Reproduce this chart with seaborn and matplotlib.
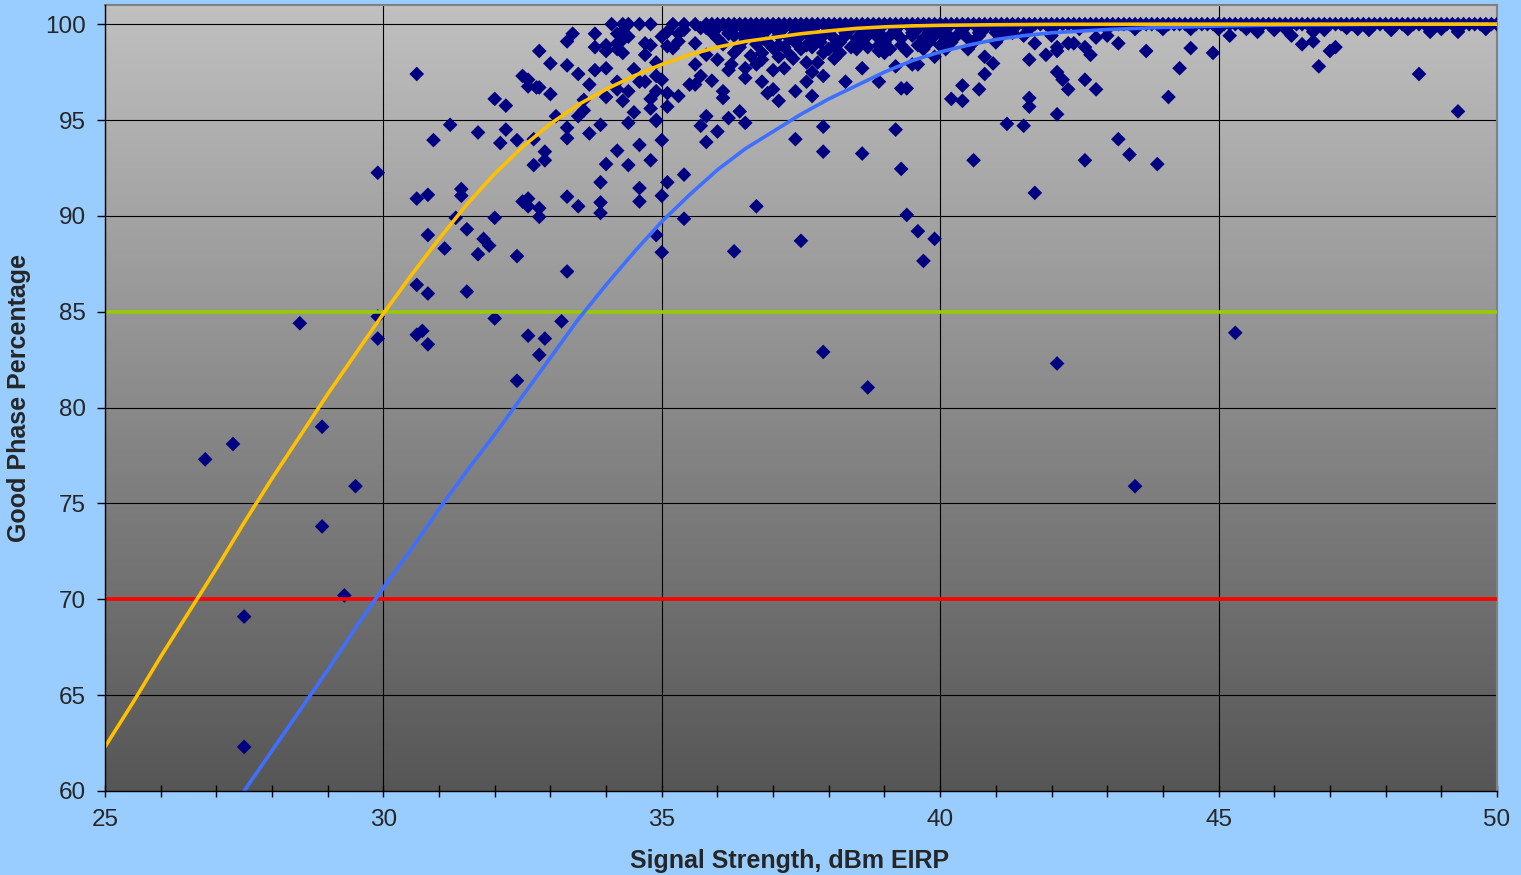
import numpy as np
import pandas as pd
import matplotlib
matplotlib.use("Agg")
import matplotlib.pyplot as plt
import seaborn as sns

# ---- fitted curves (signal strength in dBm EIRP -> good phase %) ----
fit_a_x = [25.0, 25.5, 26.0, 26.5, 27.0, 27.5, 28.0, 28.5, 29.0, 29.5, 30.0, 30.5,
           31.0, 31.5, 32.0, 32.5, 33.0, 33.5, 34.0, 34.5, 35.0, 35.5, 36.0, 36.5,
           37.0, 37.5, 38.0, 38.5, 39.0, 39.5, 40.0, 41.0, 42.0, 44.0, 47.0, 50.0]
fit_a_y = [62.3, 64.6, 67.0, 69.3, 71.6, 74.0, 76.3, 78.5, 80.7, 82.8, 84.9, 86.9,
           88.8, 90.6, 92.2, 93.6, 94.8, 95.8, 96.6, 97.3, 97.9, 98.4, 98.8, 99.1,
           99.3, 99.5, 99.65, 99.78, 99.86, 99.91, 99.94, 99.97, 99.99, 100.0, 100.0, 100.0]

fit_b_x = [27.5, 28.0, 28.5, 29.0, 29.5, 30.0, 30.5, 31.0, 31.5, 32.0, 32.5, 33.0,
           33.5, 34.0, 34.5, 35.0, 35.5, 36.0, 36.5, 37.0, 37.5, 38.0, 38.5, 39.0,
           39.5, 40.0, 40.5, 41.0, 41.5, 42.0, 43.0, 44.0, 45.0, 46.0, 48.0, 50.0]
fit_b_y = [60.0, 62.1, 64.2, 66.3, 68.5, 70.6, 72.6, 74.7, 76.7, 78.6, 80.6, 82.6,
           84.6, 86.4, 88.1, 89.7, 91.1, 92.4, 93.5, 94.4, 95.3, 96.1, 96.8, 97.5,
           98.1, 98.55, 98.9, 99.2, 99.4, 99.55, 99.72, 99.83, 99.9, 99.95, 99.99, 100.0]

# ---- thresholds ----
upper_threshold = 85
lower_threshold = 70

# ---- measurements that reached 100 % ----
full_x = [34.1, 34.3, 34.4, 34.6, 34.8, 35.2, 35.4, 35.6, 35.8, 35.9, 36.0, 36.1,
          36.2, 36.3, 36.4, 36.5, 36.6, 36.7, 36.8, 36.9, 37.0, 37.1, 37.2, 37.3,
          37.4, 37.5, 37.6, 37.7, 37.8, 37.9, 38.0, 38.1, 38.2, 38.3, 38.4, 38.5,
          38.6, 38.7, 38.8, 38.9, 39.0, 39.1, 39.2, 39.3, 39.4, 39.5, 39.6, 39.7,
          39.8, 39.9, 40.0, 40.1, 40.2, 40.3, 40.4, 40.5, 40.6, 40.7, 40.8, 40.9,
          41.0, 41.1, 41.2, 41.3, 41.4, 41.5, 41.6, 41.7, 41.8, 41.9, 42.0, 42.1,
          42.2, 42.3, 42.4, 42.5, 42.6, 42.7, 42.8, 42.9, 43.0, 43.1, 43.2, 43.3,
          43.4, 43.5, 43.6, 43.7, 43.8, 43.9, 44.0, 44.1, 44.2, 44.3, 44.4, 44.5,
          44.6, 44.7, 44.8, 44.9, 45.0, 45.1, 45.2, 45.3, 45.4, 45.5, 45.6, 45.7,
          45.8, 45.9, 46.0, 46.1, 46.2, 46.3, 46.4, 46.5, 46.6, 46.7, 46.8, 46.9,
          47.0, 47.1, 47.2, 47.3, 47.4, 47.5, 47.6, 47.7, 47.8, 47.9, 48.0, 48.1,
          48.2, 48.3, 48.4, 48.5, 48.6, 48.7, 48.8, 48.9, 49.0, 49.1, 49.2, 49.3,
          49.4, 49.5, 49.6, 49.7, 49.8, 49.9, 50.0]

# ---- measurements just under 100 % ----
near_x = [37.6, 38.0, 38.4, 38.8, 39.2, 39.6, 40.0, 40.4, 40.8, 41.2, 41.6, 42.0,
          42.5, 43.0, 43.5, 44.0, 44.5, 45.0, 45.5, 46.2, 47.5, 48.4, 49.0, 49.8,
          36.3, 36.7, 37.1, 37.5, 37.9, 38.3, 38.7, 39.1, 39.5, 39.9, 40.3, 40.7,
          41.1, 41.5, 42.0, 36.9, 37.4, 37.85, 38.2, 38.6, 39.0, 39.8, 40.2, 40.6,
          41.0, 37.5, 38.0, 38.5, 39.1, 39.7, 40.1, 40.5,
          35.7, 36.0, 36.3, 36.6, 36.9, 37.2, 37.5,
          35.9, 36.2, 36.5, 36.8, 37.1, 37.4, 37.7, 38.0, 38.3, 38.6, 38.9, 39.2,
          39.5, 39.8, 40.1, 40.4, 40.7, 41.0, 41.3,
          36.0, 36.5, 37.3, 37.7, 38.1, 38.5, 38.9, 39.3, 39.7, 40.1, 40.5,
          37.1, 37.6, 38.1, 38.9, 39.3, 39.6, 40.0,
          36.3, 36.8, 37.9, 38.2, 39.0]
near_y = [99.75, 99.75, 99.75, 99.75, 99.75, 99.75, 99.75, 99.75, 99.75, 99.75, 99.75, 99.75,
          99.75, 99.75, 99.75, 99.75, 99.75, 99.75, 99.75, 99.75, 99.75, 99.75, 99.75, 99.75,
          99.4, 99.4, 99.4, 99.4, 99.4, 99.4, 99.4, 99.4, 99.4, 99.4, 99.4, 99.4,
          99.4, 99.4, 99.4, 99.05, 99.05, 99.05, 99.05, 99.05, 99.05, 99.05, 99.05, 99.05,
          99.05, 98.7, 98.7, 98.7, 98.7, 98.7, 98.7, 98.7,
          99.8, 99.8, 99.8, 99.8, 99.8, 99.8, 99.8,
          99.55, 99.55, 99.55, 99.55, 99.55, 99.55, 99.55, 99.55, 99.55, 99.55, 99.55, 99.55,
          99.55, 99.55, 99.55, 99.55, 99.55, 99.55, 99.55,
          99.25, 99.25, 99.25, 99.25, 99.25, 99.25, 99.25, 99.25, 99.25, 99.25, 99.25,
          98.9, 98.9, 98.9, 98.9, 98.9, 98.9, 98.9,
          98.5, 98.5, 98.5, 98.5, 98.5]

# ---- remaining individual measurements ----
meas_x = [26.8, 27.3, 27.5, 27.5, 28.5, 28.9, 28.9, 29.5, 29.3, 29.9, 29.9, 30.6,
          30.6, 30.7, 30.8, 30.8, 30.8, 31.1, 31.5, 31.5, 31.7, 31.8, 31.9, 32.0,
          32.0, 32.4, 32.4, 32.6, 32.8, 32.9, 32.8, 33.2, 33.3, 34.9, 35.0, 35.4,
          36.3, 37.5, 37.9, 38.7, 39.6, 39.7, 39.9, 42.1, 43.5, 45.3,
          29.9, 30.6, 30.6, 30.8, 30.9, 31.2, 31.3, 31.4, 31.4, 31.7, 32.0, 32.1,
          32.2, 32.2, 32.4, 32.5, 32.5, 32.6, 32.6, 32.6, 32.6, 32.75, 32.7, 32.7,
          32.8, 32.8, 32.8, 32.9, 32.9, 33.0, 33.0, 33.1, 33.3, 33.3, 33.3, 33.3,
          33.3, 33.4, 33.5, 33.5, 33.5, 33.6, 33.6, 33.7, 33.7, 33.8, 33.8, 33.8,
          33.9, 33.9, 33.9, 33.9, 34.0, 34.0, 34.0, 34.0, 34.0, 34.2, 34.2, 34.2,
          34.2, 34.2, 34.2, 34.3, 34.3, 34.3, 34.3, 34.4, 34.4, 34.4, 34.4, 34.5,
          34.5, 34.6, 34.6, 34.6, 34.6, 34.7, 34.7, 34.7, 34.8, 34.8, 34.8, 34.8,
          34.9, 34.9, 34.9, 34.9, 34.9, 35.0, 35.0, 35.0, 35.0, 35.1, 35.1, 35.1,
          35.1, 35.1, 35.2, 35.3, 35.3, 35.3, 35.4, 35.4, 35.5, 35.6, 35.6, 35.6,
          35.7, 35.7, 35.8, 35.8, 35.8, 35.8, 35.9, 36.0, 36.0, 36.1, 36.1, 36.1,
          36.2, 36.2, 36.2, 36.25, 36.4, 36.4, 36.5, 36.5, 36.5, 36.5, 36.6, 36.7,
          36.7, 36.7, 36.8, 36.8, 36.9, 36.9, 37.0, 37.0, 37.0, 37.1, 37.1, 37.2,
          37.2, 37.3, 37.4, 37.4, 37.4, 37.36, 37.6, 37.6, 37.7, 37.7, 37.7, 37.8,
          37.9, 37.9, 37.9, 38.1, 38.3, 38.4, 38.6, 38.6, 38.7, 38.9, 38.9, 39.2,
          39.2, 39.3, 39.3, 39.4, 39.4, 39.4, 39.5, 39.6, 39.9, 40.2, 40.4, 40.4,
          40.6, 40.7, 40.8, 40.8, 40.95, 41.2, 41.5, 41.6, 41.6, 41.6, 41.7, 41.7,
          41.9, 42.1, 42.1, 42.1, 42.1, 42.2, 42.3, 42.3, 42.4, 42.6, 42.6, 42.6,
          42.7, 42.8, 42.8, 43.0, 43.2, 43.2, 43.4, 43.7, 43.9, 44.1, 44.3, 44.5,
          44.9, 45.2, 45.7, 46.0, 46.31, 46.5, 46.7, 46.7, 46.8, 46.9, 47.0, 47.1,
          47.3, 47.7, 48.1, 48.6, 48.8, 49.3, 49.3]
meas_y = [77.3, 78.1, 69.1, 62.3, 84.4, 79.0, 73.8, 75.9, 70.2, 84.75, 83.6, 86.4,
          83.8, 84.0, 83.3, 85.95, 89.0, 88.3, 86.05, 89.3, 88.0, 88.8, 88.45, 84.65,
          89.9, 87.9, 81.4, 83.75, 82.75, 83.6, 89.95, 84.5, 87.1, 89.0, 88.1, 89.85,
          88.15, 88.7, 82.9, 81.05, 89.2, 87.65, 88.8, 82.3, 75.9, 83.9,
          92.25, 97.4, 90.9, 91.1, 93.95, 94.75, 89.9, 91.4, 91.05, 94.35, 96.1, 93.8,
          95.75, 94.5, 93.95, 90.75, 97.3, 90.9, 90.5, 97.1, 96.75, 96.7, 94.0, 92.65,
          90.4, 98.6, 96.7, 93.35, 92.9, 96.35, 97.95, 95.2, 91.0, 94.6, 94.05, 97.85,
          99.1, 99.5, 90.5, 95.2, 97.4, 96.05, 95.5, 96.85, 94.3, 99.5, 98.8, 97.6,
          94.75, 91.75, 90.7, 90.15, 92.7, 98.6, 97.7, 96.2, 98.9, 93.4, 97.0, 96.6,
          99.0, 98.7, 99.5, 99.6, 99.2, 98.5, 96.0, 92.65, 96.5, 99.35, 94.85, 97.65,
          95.4, 91.45, 90.75, 93.7, 97.0, 97.0, 98.4, 99.0, 92.9, 96.1, 95.6, 98.9,
          95.0, 97.3, 96.5, 98.0, 94.95, 91.05, 93.95, 97.1, 99.35, 91.75, 96.4, 95.7,
          99.6, 98.85, 98.75, 96.25, 99.1, 99.5, 92.15, 99.7, 96.85, 96.85, 97.9, 99.0,
          97.3, 94.7, 95.2, 93.85, 98.4, 99.8, 97.05, 94.4, 98.15, 96.15, 96.5, 98.95,
          95.1, 97.6, 99.5, 97.9, 95.45, 98.8, 94.85, 97.7, 97.2, 99.55, 98.35, 90.5,
          97.9, 98.95, 97.0, 98.15, 96.4, 99.7, 97.6, 98.75, 96.6, 96.0, 98.3, 97.7,
          98.8, 98.4, 94.0, 96.5, 99.7, 98.2, 97.0, 98.0, 96.25, 97.5, 98.8, 98.0,
          94.65, 93.35, 97.3, 98.2, 97.0, 98.8, 93.25, 97.7, 98.8, 97.0, 98.6, 94.5,
          97.8, 92.45, 96.65, 96.65, 90.05, 98.6, 97.9, 97.9, 98.3, 96.1, 96.0, 96.8,
          92.9, 96.6, 97.4, 98.3, 97.95, 94.8, 94.7, 96.15, 95.7, 98.15, 91.2, 99.0,
          98.4, 95.3, 97.5, 98.6, 98.8, 97.1, 96.6, 99.0, 99.0, 92.9, 97.1, 98.8,
          98.4, 96.6, 99.3, 99.4, 94.0, 99.0, 93.2, 98.6, 92.7, 96.2, 97.7, 98.75,
          98.5, 99.4, 99.6, 99.7, 99.4, 98.95, 99.1, 99.6, 97.8, 99.7, 98.6, 98.8,
          99.8, 99.7, 99.7, 97.4, 99.6, 95.45, 99.6]

points = pd.DataFrame({
    "signal": list(meas_x) + list(near_x) + list(full_x),
    "good": list(meas_y) + list(near_y) + [100.0] * len(full_x),
})
curve_a = pd.DataFrame({"signal": fit_a_x, "good": fit_a_y})
curve_b = pd.DataFrame({"signal": fit_b_x, "good": fit_b_y})

sns.set_style("white")
plt.rcParams["font.family"] = ["Liberation Sans", "DejaVu Sans"]

fig = plt.figure(figsize=(15.21, 8.75), dpi=100, facecolor="#99CCFF")
ax = fig.add_axes([0.0690, 0.0960, 0.9152, 0.8983])

# vertical grey gradient for the plot area (light at the top, dark at the bottom)
grad = np.linspace(0, 1, 256).reshape(-1, 1)
bg_cmap = matplotlib.colors.LinearSegmentedColormap.from_list("bg", ["#C0C0C0", "#565656"])
ax.imshow(grad, aspect="auto", cmap=bg_cmap, extent=[25, 50, 60, 101], origin="upper",
          zorder=0, interpolation="bilinear")
ax.set_xlim(25, 50)
ax.set_ylim(60, 101)

ax.set_xticks([25, 30, 35, 40, 45, 50])
ax.set_xticks(np.arange(25, 51, 1), minor=True)
ax.set_yticks([60, 65, 70, 75, 80, 85, 90, 95, 100])
ax.grid(True, which="major", color="black", linewidth=0.8)
for gl in ax.get_xgridlines() + ax.get_ygridlines():
    gl.set_zorder(1)

sns.scatterplot(data=points, x="signal", y="good", marker="D", s=56,
                color="#000080", edgecolor="none", linewidth=0, ax=ax, zorder=3)

ax.axhline(upper_threshold, color="#99CC00", linewidth=2.6, zorder=4)
ax.axhline(lower_threshold, color="#FF0000", linewidth=2.6, zorder=4)

sns.lineplot(data=curve_b, x="signal", y="good", color="#3F6FFF", linewidth=2.6,
             sort=False, estimator=None, ax=ax, zorder=5)
sns.lineplot(data=curve_a, x="signal", y="good", color="#FFC000", linewidth=2.6,
             sort=False, estimator=None, ax=ax, zorder=6)

ax.tick_params(axis="x", which="major", direction="inout", length=8, width=1,
               labelsize=17.5, pad=9, color="black", bottom=True)
ax.tick_params(axis="x", which="minor", direction="inout", length=8, width=1,
               color="black", bottom=True)
ax.tick_params(axis="y", which="major", direction="out", length=6, width=1,
               labelsize=17.5, pad=8, color="black", left=True)

for side in ["top", "right"]:
    ax.spines[side].set_color("#808080")
    ax.spines[side].set_linewidth(1.5)
for side in ["bottom", "left"]:
    ax.spines[side].set_color("black")
    ax.spines[side].set_linewidth(1.0)
    ax.spines[side].set_zorder(7)

ax.set_xlabel("Signal Strength, dBm EIRP", fontsize=18, fontweight="bold")
ax.set_ylabel("Good Phase Percentage", fontsize=18, fontweight="bold")
ax.xaxis.set_label_coords(0.492, -0.074)
ax.yaxis.set_label_coords(-0.053, 0.50)

fig.savefig("out.png", dpi=100, facecolor=fig.get_facecolor())
